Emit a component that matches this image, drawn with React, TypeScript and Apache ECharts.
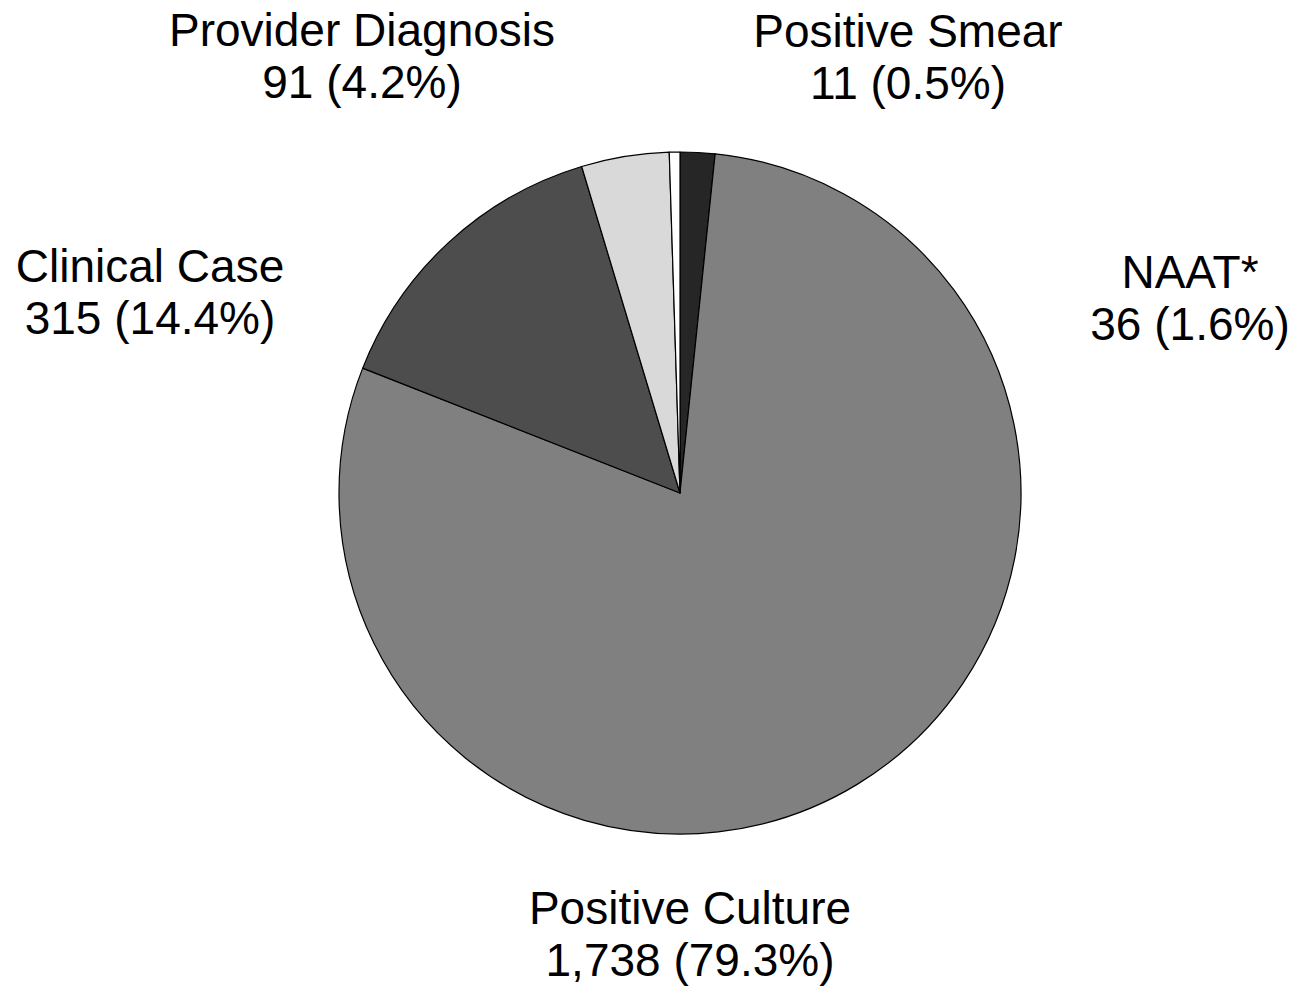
import React, { useEffect, useRef } from "react";
import * as echarts from "echarts";

const categories = ["NAAT*", "Positive Culture", "Clinical Case", "Provider Diagnosis", "Positive Smear"];
const values = [36, 1738, 315, 91, 11];
const colors = ["#262626", "#808080", "#4d4d4d", "#d9d9d9", "#ffffff"];
const labelCenters: [number, number][] = [
  [1190, 298],
  [690, 934],
  [150, 292],
  [362, 56],
  [908, 57],
];

export default function App() {
  const ref = useRef<HTMLDivElement>(null);
  useEffect(() => {
    if (!ref.current) return;
    const chart = echarts.init(ref.current, null, { renderer: "svg" });
    const total = values.reduce((a, b) => a + b, 0);
    chart.setOption({
      animation: false,
      backgroundColor: "#ffffff",
      series: [
        {
          type: "pie",
          center: [680, 493],
          radius: [0, 341],
          startAngle: 90,
          clockwise: true,
          avoidLabelOverlap: false,
          data: categories.map((c, i) => ({
            name: c,
            value: values[i],
            itemStyle: { color: colors[i] },
          })),
          itemStyle: { borderColor: "#000000", borderWidth: 1.2 },
          label: {
            show: true,
            position: "outside",
            fontFamily: "Liberation Sans, Arial, sans-serif",
            fontSize: 46,
            lineHeight: 52,
            color: "#000000",
            formatter: (p: any) =>
              `${p.name}\n${Number(p.value).toLocaleString("en-US")} (${((p.value / total) * 100).toFixed(1)}%)`,
          },
          labelLine: { show: false },
          labelLayout: (params: any) => {
            const c = labelCenters[params.dataIndex];
            return { x: c[0], y: c[1], align: "center", verticalAlign: "middle" };
          },
          emphasis: { disabled: true },
        },
      ],
    });
    return () => chart.dispose();
  }, []);
  return (
    <div
      ref={ref}
      style={{ position: "fixed", left: 0, top: 0, width: 1302, height: 989, background: "#fff" }}
    />
  );
}
